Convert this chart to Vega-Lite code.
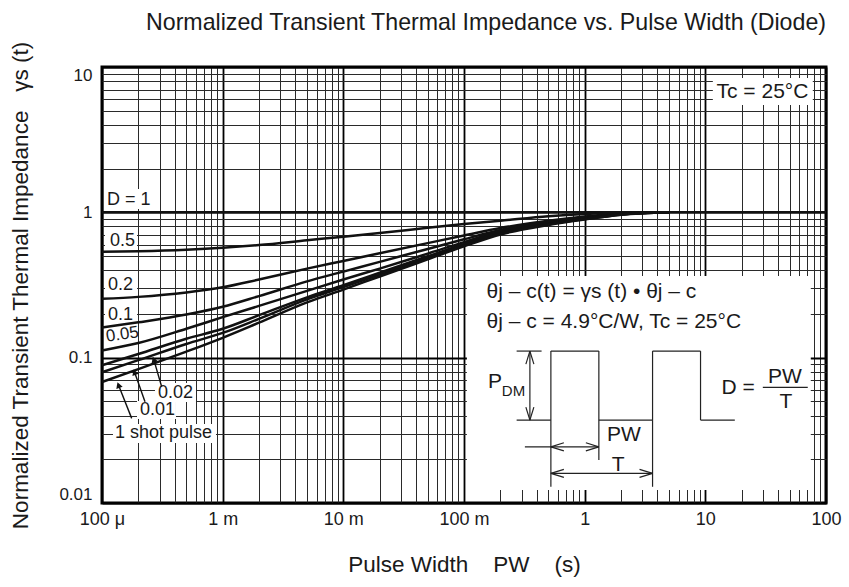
{
  "$schema": "https://vega.github.io/schema/vega-lite/v6.json",
  "width": 724,
  "height": 436,
  "autosize": {"type": "none"},
  "padding": {"left": 102, "top": 67, "right": 23, "bottom": 84},
  "title": {"text": "Normalized Transient Thermal Impedance vs. Pulse Width (Diode)", "anchor": "end", "frame": "group", "fontSize": 23.2, "fontWeight": "normal", "color": "#1a1a1a", "offset": 9, "dy": 26, "baseline": "bottom", "font": "Liberation Sans"},
  "config": {"font": "Liberation Sans", "view": {"stroke": "#000", "strokeWidth": 3}},
  "datasets": {
    "curves": [
      {"D": "1", "x": 0.0001, "y": 1}, {"D": "1", "x": 100, "y": 1},
      {"D": "0.5", "x": 0.0001, "y": 0.535}, {"D": "0.5", "x": 0.0002, "y": 0.54}, {"D": "0.5", "x": 0.0005, "y": 0.553}, {"D": "0.5", "x": 0.001, "y": 0.57}, {"D": "0.5", "x": 0.002, "y": 0.595}, {"D": "0.5", "x": 0.005, "y": 0.642}, {"D": "0.5", "x": 0.01, "y": 0.68}, {"D": "0.5", "x": 0.02, "y": 0.72}, {"D": "0.5", "x": 0.05, "y": 0.782}, {"D": "0.5", "x": 0.1, "y": 0.83}, {"D": "0.5", "x": 0.2, "y": 0.875}, {"D": "0.5", "x": 0.5, "y": 0.94}, {"D": "0.5", "x": 1, "y": 0.975}, {"D": "0.5", "x": 2, "y": 0.995}, {"D": "0.5", "x": 5, "y": 1},
      {"D": "0.2", "x": 0.0001, "y": 0.254}, {"D": "0.2", "x": 0.0002, "y": 0.262}, {"D": "0.2", "x": 0.0005, "y": 0.281}, {"D": "0.2", "x": 0.001, "y": 0.305}, {"D": "0.2", "x": 0.002, "y": 0.345}, {"D": "0.2", "x": 0.005, "y": 0.41}, {"D": "0.2", "x": 0.01, "y": 0.463}, {"D": "0.2", "x": 0.02, "y": 0.523}, {"D": "0.2", "x": 0.05, "y": 0.614}, {"D": "0.2", "x": 0.1, "y": 0.693}, {"D": "0.2", "x": 0.2, "y": 0.78}, {"D": "0.2", "x": 0.5, "y": 0.875}, {"D": "0.2", "x": 1, "y": 0.935}, {"D": "0.2", "x": 2, "y": 0.98}, {"D": "0.2", "x": 5, "y": 1},
      {"D": "0.1", "x": 0.0001, "y": 0.161}, {"D": "0.1", "x": 0.0002, "y": 0.175}, {"D": "0.1", "x": 0.0005, "y": 0.198}, {"D": "0.1", "x": 0.001, "y": 0.224}, {"D": "0.1", "x": 0.002, "y": 0.265}, {"D": "0.1", "x": 0.005, "y": 0.335}, {"D": "0.1", "x": 0.01, "y": 0.391}, {"D": "0.1", "x": 0.02, "y": 0.456}, {"D": "0.1", "x": 0.05, "y": 0.56}, {"D": "0.1", "x": 0.1, "y": 0.653}, {"D": "0.1", "x": 0.2, "y": 0.755}, {"D": "0.1", "x": 0.5, "y": 0.858}, {"D": "0.1", "x": 1, "y": 0.922}, {"D": "0.1", "x": 2, "y": 0.975}, {"D": "0.1", "x": 5, "y": 1},
      {"D": "0.05", "x": 0.0001, "y": 0.112}, {"D": "0.05", "x": 0.0002, "y": 0.126}, {"D": "0.05", "x": 0.0005, "y": 0.158}, {"D": "0.05", "x": 0.001, "y": 0.19}, {"D": "0.05", "x": 0.002, "y": 0.227}, {"D": "0.05", "x": 0.005, "y": 0.288}, {"D": "0.05", "x": 0.01, "y": 0.345}, {"D": "0.05", "x": 0.02, "y": 0.41}, {"D": "0.05", "x": 0.05, "y": 0.52}, {"D": "0.05", "x": 0.1, "y": 0.624}, {"D": "0.05", "x": 0.2, "y": 0.74}, {"D": "0.05", "x": 0.5, "y": 0.846}, {"D": "0.05", "x": 1, "y": 0.915}, {"D": "0.05", "x": 2, "y": 0.972}, {"D": "0.05", "x": 5, "y": 1},
      {"D": "0.02", "x": 0.0001, "y": 0.0886}, {"D": "0.02", "x": 0.0002, "y": 0.106}, {"D": "0.02", "x": 0.0005, "y": 0.135}, {"D": "0.02", "x": 0.001, "y": 0.158}, {"D": "0.02", "x": 0.002, "y": 0.196}, {"D": "0.02", "x": 0.005, "y": 0.26}, {"D": "0.02", "x": 0.01, "y": 0.315}, {"D": "0.02", "x": 0.02, "y": 0.384}, {"D": "0.02", "x": 0.05, "y": 0.499}, {"D": "0.02", "x": 0.1, "y": 0.607}, {"D": "0.02", "x": 0.2, "y": 0.726}, {"D": "0.02", "x": 0.5, "y": 0.834}, {"D": "0.02", "x": 1, "y": 0.905}, {"D": "0.02", "x": 2, "y": 0.967}, {"D": "0.02", "x": 5, "y": 1},
      {"D": "0.01", "x": 0.0001, "y": 0.0794}, {"D": "0.01", "x": 0.0002, "y": 0.0961}, {"D": "0.01", "x": 0.0005, "y": 0.1243}, {"D": "0.01", "x": 0.001, "y": 0.148}, {"D": "0.01", "x": 0.002, "y": 0.185}, {"D": "0.01", "x": 0.005, "y": 0.252}, {"D": "0.01", "x": 0.01, "y": 0.306}, {"D": "0.01", "x": 0.02, "y": 0.373}, {"D": "0.01", "x": 0.05, "y": 0.487}, {"D": "0.01", "x": 0.1, "y": 0.595}, {"D": "0.01", "x": 0.2, "y": 0.716}, {"D": "0.01", "x": 0.5, "y": 0.826}, {"D": "0.01", "x": 1, "y": 0.898}, {"D": "0.01", "x": 2, "y": 0.964}, {"D": "0.01", "x": 5, "y": 1},
      {"D": "single", "x": 0.0001, "y": 0.068}, {"D": "single", "x": 0.0002, "y": 0.0834}, {"D": "single", "x": 0.0005, "y": 0.11}, {"D": "single", "x": 0.001, "y": 0.137}, {"D": "single", "x": 0.002, "y": 0.174}, {"D": "single", "x": 0.005, "y": 0.24}, {"D": "single", "x": 0.01, "y": 0.294}, {"D": "single", "x": 0.02, "y": 0.362}, {"D": "single", "x": 0.05, "y": 0.475}, {"D": "single", "x": 0.1, "y": 0.583}, {"D": "single", "x": 0.2, "y": 0.704}, {"D": "single", "x": 0.5, "y": 0.818}, {"D": "single", "x": 1, "y": 0.892}, {"D": "single", "x": 2, "y": 0.961}, {"D": "single", "x": 5, "y": 1}
    ],
    "boxes": [
      {"x": 0.0001039, "x2": 0.0002645, "y": 1.054, "y2": 1.447},
      {"x": 0.0001059, "x2": 0.000195, "y": 0.559, "y2": 0.732},
      {"x": 0.0001059, "x2": 0.000195, "y": 0.274, "y2": 0.3644},
      {"x": 0.0001059, "x2": 0.000195, "y": 0.173, "y2": 0.2265},
      {"x": 0.0002748, "x2": 0.000601, "y": 0.04947, "y2": 0.0669},
      {"x": 0.000195, "x2": 0.0004103, "y": 0.0378, "y2": 0.05027},
      {"x": 0.0001233, "x2": 0.00088, "y": 0.02584, "y2": 0.0349},
      {"x": 11.54, "x2": 77.7, "y": 5.477, "y2": 8.4},
      {"x": 0.1057, "x2": 74.8, "y": 0.01227, "y2": 0.3644}
    ],
    "labelsLeft": [
      {"s": "D = 1", "x": 0.00011, "y": 1.215},
      {"s": "0.5", "x": 0.0001165, "y": 0.634},
      {"s": "0.2", "x": 0.0001121, "y": 0.316},
      {"s": "0.1", "x": 0.0001121, "y": 0.1964},
      {"s": "0.02", "x": 0.0002911, "y": 0.05733},
      {"s": "0.01", "x": 0.0002064, "y": 0.04358},
      {"s": "1 shot pulse", "x": 0.0001282, "y": 0.03013}
    ],
    "labelsInset": [
      {"s": "Tc = 25°C", "x": 12.38, "y": 6.761},
      {"s": "θj – c(t) = γs (t) • θj – c", "x": 0.1538, "y": 0.2841},
      {"s": "θj – c = 4.9°C/W, Tc = 25°C", "x": 0.1538, "y": 0.1766},
      {"s": "P", "x": 0.158, "y": 0.0679},
      {"s": "D =", "x": 13.6, "y": 0.0615}
    ],
    "labelsTilted": [
      {"s": "0.05", "x": 0.0001079, "y": 0.1393}
    ],
    "labelsSmall": [
      {"s": "DM", "x": 0.206, "y": 0.0589}
    ],
    "labelsCenter": [
      {"s": "PW", "x": 45.57, "y": 0.0739},
      {"s": "T", "x": 46.45, "y": 0.0497},
      {"s": "PW", "x": 2.113, "y": 0.02933},
      {"s": "T", "x": 1.894, "y": 0.01823}
    ],
    "segments": [
      {"x": 0.273, "y": 0.03721, "x2": 0.5248, "y2": 0.03721},
      {"x": 0.5248, "y": 0.03721, "x2": 0.5248, "y2": 0.111},
      {"x": 0.5248, "y": 0.111, "x2": 1.311, "y2": 0.111},
      {"x": 1.311, "y": 0.111, "x2": 1.311, "y2": 0.03721},
      {"x": 1.311, "y": 0.03721, "x2": 3.653, "y2": 0.03721},
      {"x": 3.653, "y": 0.03721, "x2": 3.653, "y2": 0.111},
      {"x": 3.653, "y": 0.111, "x2": 9.125, "y2": 0.111},
      {"x": 9.125, "y": 0.111, "x2": 9.125, "y2": 0.03721},
      {"x": 9.125, "y": 0.03721, "x2": 17.55, "y2": 0.03721},
      {"x": 0.273, "y": 0.111, "x2": 0.4395, "y2": 0.111},
      {"x": 0.3516, "y": 0.111, "x2": 0.3516, "y2": 0.03721},
      {"x": 0.3516, "y": 0.111, "x2": 0.3257, "y2": 0.0903},
      {"x": 0.3516, "y": 0.111, "x2": 0.3794, "y2": 0.0903},
      {"x": 0.3516, "y": 0.03721, "x2": 0.3257, "y2": 0.0457},
      {"x": 0.3516, "y": 0.03721, "x2": 0.3794, "y2": 0.0457},
      {"x": 0.5248, "y": 0.03721, "x2": 0.5248, "y2": 0.01293},
      {"x": 1.311, "y": 0.03721, "x2": 1.311, "y2": 0.01973},
      {"x": 3.653, "y": 0.03721, "x2": 3.653, "y2": 0.01293},
      {"x": 0.3196, "y": 0.02436, "x2": 1.311, "y2": 0.02436},
      {"x": 0.5248, "y": 0.02436, "x2": 0.6726, "y2": 0.02596},
      {"x": 0.5248, "y": 0.02436, "x2": 0.6726, "y2": 0.02286},
      {"x": 1.311, "y": 0.02436, "x2": 1.023, "y2": 0.02596},
      {"x": 1.311, "y": 0.02436, "x2": 1.023, "y2": 0.02286},
      {"x": 0.5248, "y": 0.01598, "x2": 3.653, "y2": 0.01598},
      {"x": 0.5248, "y": 0.01598, "x2": 0.6726, "y2": 0.01702},
      {"x": 0.5248, "y": 0.01598, "x2": 0.6726, "y2": 0.015},
      {"x": 3.653, "y": 0.01598, "x2": 2.85, "y2": 0.01702},
      {"x": 3.653, "y": 0.01598, "x2": 2.85, "y2": 0.015},
      {"x": 29.95, "y": 0.0625, "x2": 70.6, "y2": 0.0625}
    ],
    "pointers": [
      {"x": 0.00017621, "y": 0.03822, "x2": 0.00013695, "y2": 0.0648},
      {"x": 0.0002272, "y": 0.04971, "x2": 0.0001862, "y2": 0.0795},
      {"x": 0.0003123, "y": 0.0631, "x2": 0.0002686, "y2": 0.097}
    ],
    "heads": [
      {"x": 0.00013695, "y": 0.0648},
      {"x": 0.0001862, "y": 0.0795},
      {"x": 0.0002686, "y": 0.097}
    ]
  },
  "encoding": {
    "x": {
      "field": "x", "type": "quantitative",
      "scale": {"type": "log", "domain": [0.0001, 100], "nice": false},
      "axis": {
        "title": "Pulse Width\u00a0\u00a0\u00a0\u00a0PW\u00a0\u00a0\u00a0\u00a0(s)",
        "values": [0.0001,0.0002,0.0003,0.0004,0.0005,0.0006,0.0007,0.0008,0.0009,0.001,0.002,0.003,0.004,0.005,0.006,0.007,0.008,0.009,0.01,0.02,0.03,0.04,0.05,0.06,0.07,0.08,0.09,0.1,0.2,0.3,0.4,0.5,0.6,0.7,0.8,0.9,1,2,3,4,5,6,7,8,9,10,20,30,40,50,60,70,80,90,100],
        "labelExpr": "datum.value == 0.0001 ? '100 μ' : datum.value == 0.001 ? '1 m' : datum.value == 0.01 ? '10 m' : datum.value == 0.1 ? '100 m' : datum.value == 1 ? '1' : datum.value == 10 ? '10' : datum.value == 100 ? '100' : ''",
        "labelFlush": false, "labelOverlap": false, "ticks": false, "domain": false,
        "labelFontSize": 18, "labelColor": "#1a1a1a", "labelPadding": 7,
        "titleFontSize": 22.5, "titleFontWeight": "normal", "titleColor": "#1a1a1a", "titlePadding": 25,
        "grid": true, "gridOpacity": 1,
        "gridColor": {"condition": {"test": "indexof([0.0001,0.001,0.01,0.1,1,10,100], datum.value) >= 0", "value": "#000"}, "value": "#2a2a2a"},
        "gridWidth": {"condition": {"test": "indexof([0.0001,0.001,0.01,0.1,1,10,100], datum.value) >= 0", "value": 1.8}, "value": 1}
      }
    },
    "y": {
      "field": "y", "type": "quantitative",
      "scale": {"type": "log", "domain": [0.01, 10], "nice": false},
      "axis": {
        "title": "Normalized Transient Thermal Impedance\u00a0\u00a0\u00a0γs (t)",
        "values": [0.01,0.02,0.03,0.04,0.05,0.06,0.07,0.08,0.09,0.1,0.2,0.3,0.4,0.5,0.6,0.7,0.8,0.9,1,2,3,4,5,6,7,8,9,10],
        "labelExpr": "datum.value == 0.01 ? '0.01' : datum.value == 0.1 ? '0.1' : datum.value == 1 ? '1' : datum.value == 10 ? '10' : ''",
        "labelFlush": true, "labelOverlap": false, "ticks": false, "domain": false,
        "labelFontSize": 17, "labelColor": "#1a1a1a", "labelPadding": 10,
        "titleFontSize": 22.5, "titleFontWeight": "normal", "titleColor": "#1a1a1a", "titlePadding": 26,
        "grid": true, "gridOpacity": 1,
        "gridColor": {"condition": {"test": "indexof([0.01,0.1,1,10], datum.value) >= 0", "value": "#000"}, "value": "#2a2a2a"},
        "gridWidth": {"condition": {"test": "indexof([0.01,0.1,1,10], datum.value) >= 0", "value": 1.8}, "value": 1}
      }
    }
  },
  "layer": [
    {
      "data": {"name": "boxes"},
      "mark": {"type": "rect", "fill": "#ffffff", "strokeWidth": 0},
      "encoding": {"x2": {"field": "x2"}, "y2": {"field": "y2"}}
    },
    {
      "data": {"name": "curves"},
      "mark": {"type": "line", "color": "#111", "strokeWidth": 2.5, "interpolate": "monotone"},
      "encoding": {"detail": {"field": "D", "type": "nominal"}}
    },
    {
      "data": {"name": "segments"},
      "mark": {"type": "rule", "color": "#222", "strokeWidth": 1.2},
      "encoding": {"x2": {"field": "x2"}, "y2": {"field": "y2"}}
    },
    {
      "data": {"name": "pointers"},
      "mark": {"type": "rule", "color": "#111", "strokeWidth": 1.4},
      "encoding": {"x2": {"field": "x2"}, "y2": {"field": "y2"}}
    },
    {
      "data": {"name": "heads"},
      "mark": {"type": "point", "shape": "triangle-up", "filled": true, "color": "#111", "size": 45, "angle": 340, "opacity": 1}
    },
    {
      "data": {"name": "labelsLeft"},
      "mark": {"type": "text", "align": "left", "baseline": "middle", "fontSize": 18, "color": "#1a1a1a"},
      "encoding": {"text": {"field": "s"}}
    },
    {
      "data": {"name": "labelsInset"},
      "mark": {"type": "text", "align": "left", "baseline": "middle", "fontSize": 21, "color": "#1a1a1a"},
      "encoding": {"text": {"field": "s"}}
    },
    {
      "data": {"name": "labelsTilted"},
      "mark": {"type": "text", "align": "left", "baseline": "middle", "fontSize": 17, "angle": 352, "color": "#1a1a1a"},
      "encoding": {"text": {"field": "s"}}
    },
    {
      "data": {"name": "labelsSmall"},
      "mark": {"type": "text", "align": "left", "baseline": "middle", "fontSize": 15, "color": "#1a1a1a"},
      "encoding": {"text": {"field": "s"}}
    },
    {
      "data": {"name": "labelsCenter"},
      "mark": {"type": "text", "align": "center", "baseline": "middle", "fontSize": 21, "color": "#1a1a1a"},
      "encoding": {"text": {"field": "s"}}
    }
  ]
}
